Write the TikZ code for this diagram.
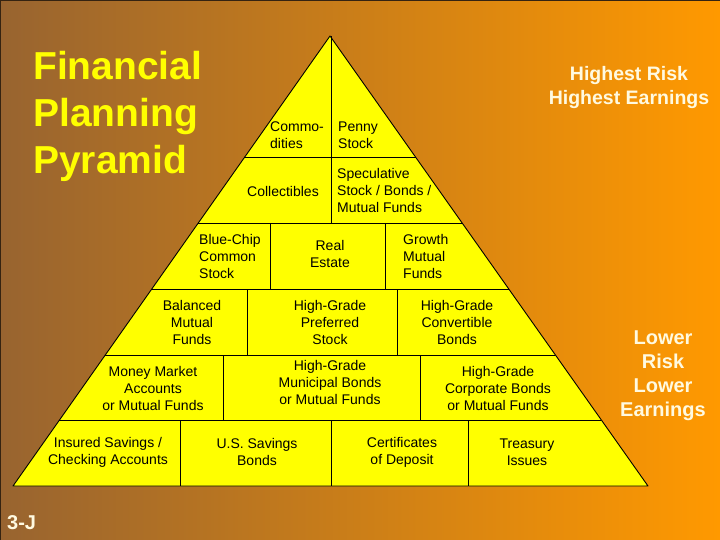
\documentclass[tikz,border=0pt]{standalone}
\usepackage{fontspec}
\setmainfont{Liberation Sans}
\usetikzlibrary{calc}
\definecolor{bgleft}{RGB}{152,100,48}
\definecolor{bgright}{RGB}{255,153,0}
\definecolor{pyr}{RGB}{255,255,0}
\definecolor{cream}{RGB}{255,250,225}
\begin{document}
\begin{tikzpicture}[x=1pt,y=-1pt,line join=round,
	cell/.style={font=\fontsize{14}{17}\selectfont,align=center,inner sep=0pt},
	celll/.style={cell,align=left,anchor=west},
	note/.style={font=\bfseries\fontsize{20}{24}\selectfont,text=cream,align=center,inner sep=0pt}]
	
	\shade[left color=bgleft,right color=bgright] (0,0) rectangle (720,540);
	\useasboundingbox (0,0) rectangle (720,540);
	\draw[line width=1.5pt,bgleft!35!black] (0,540) -- (0,0) -- (720,0);
	
	\coordinate (apex) at (330,36);
	\coordinate (bl) at (13,486);
	\coordinate (br) at (648,486);
	\fill[pyr] (apex) -- (bl) -- (br) -- cycle;
	% rows
	\foreach \y in {157,223,289,355,420}
	\draw ($(apex)!{(\y-36)/450}!(bl)$) -- ($(apex)!{(\y-36)/450}!(br)$);
	% dividers
	\foreach \x/\ya/\yb in {331/36/223,270/223/289,385/223/289,247/289/355,397/289/355,
		223/355/420,420/355/420,180/420/486,331/420/486,468/420/486}
	\draw (\x,\ya) -- (\x,\yb);
	\draw[line width=0.9pt] (apex) -- (bl) -- (br) -- cycle;
	
	\node[celll] (commod) at (270,135) {Commo-\\dities};
	\node[celll] (penny) at (338,135) {Penny\\Stock};
	\node[cell] (collect) at (283,191) {Collectibles};
	\node[celll] (specul) at (337,190) {Speculative\\Stock / Bonds /\\Mutual Funds};
	\node[celll] (bluechip) at (199,256) {Blue-Chip\\Common\\Stock};
	\node[cell] (realest) at (330,254) {Real\\Estate};
	\node[celll] (growth) at (403,256) {Growth\\Mutual\\Funds};
	\node[cell] (balanced) at (192,322) {Balanced\\Mutual\\Funds};
	\node[cell] (preferred) at (330,322) {High-Grade\\Preferred\\Stock};
	\node[cell] (convert) at (457,322) {High-Grade\\Convertible\\Bonds};
	\node[cell] (money) at (153,388) {Money Market\\Accounts\\or Mutual Funds};
	\node[cell] (municip) at (330,382) {High-Grade\\Municipal Bonds\\or Mutual Funds};
	\node[cell] (corpor) at (498,388) {High-Grade\\Corporate Bonds\\or Mutual Funds};
	\node[cell] (insured) at (108,452) {Insured Savings /\\Checking Accounts};
	\node[cell] (ussav) at (257,452) {U.S. Savings\\Bonds};
	\node[cell] (certif) at (402,452) {Certificates\\of Deposit};
	\node[cell] (treas) at (527,452) {Treasury\\Issues};
	
	\node[font=\bfseries\fontsize{39}{47}\selectfont,text=pyr,align=left,anchor=north west,inner sep=0pt]
	(title) at (33,51) {Financial\\Planning\\Pyramid};
	\node[note,font=\bfseries\fontsize{19.5}{24}\selectfont] (highest) at (629,88) {Highest Risk\\Highest Earnings};
	\node[note] (lower) at (663,376) {Lower\\Risk\\Lower\\Earnings};
	\node[note,anchor=west] (chap) at (7,523) {3-J};
\end{tikzpicture}
\end{document}
